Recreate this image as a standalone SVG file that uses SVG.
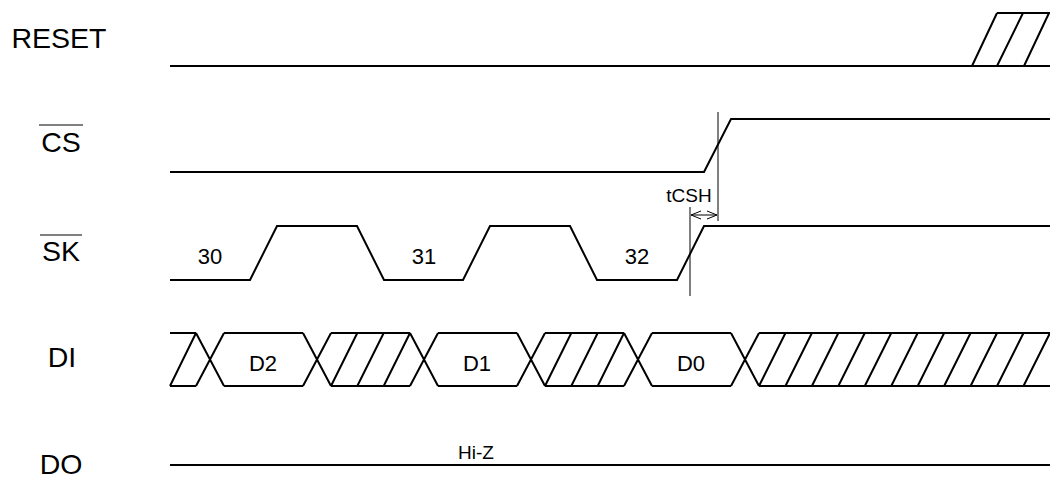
<svg xmlns="http://www.w3.org/2000/svg" width="1050" height="480" viewBox="0 0 1050 480">
<defs>
<style>
.sig{fill:none;stroke:#000;stroke-width:2;stroke-linejoin:miter}
.thin{fill:none;stroke:#000;stroke-width:1}
.lbl{font-family:"Liberation Sans",Arial,sans-serif;font-size:28.5px;fill:#000;text-anchor:middle}
.txt{font-family:"Liberation Sans",Arial,sans-serif;font-size:22px;fill:#000;text-anchor:middle}
.sm{font-family:"Liberation Sans",Arial,sans-serif;font-size:19px;fill:#000;text-anchor:middle}
</style>
<marker id="ah" viewBox="0 0 10 10" refX="10" refY="5" markerWidth="10" markerHeight="10" markerUnits="userSpaceOnUse" orient="auto-start-reverse">
<path d="M0,1 L10,5 L0,9" fill="none" stroke="#000" stroke-width="1"/>
</marker>
</defs>
<rect width="1050" height="480" fill="#fff"/>

<g id="labels">
<text class="lbl" x="59" y="48">RESET</text>
<text class="lbl" x="61" y="152">CS</text>
<line class="thin" x1="39" y1="125" x2="83" y2="125" stroke-width="1.5"/>
<text class="lbl" x="61" y="261">SK</text>
<line class="thin" x1="40" y1="235" x2="82" y2="235" stroke-width="1.5"/>
<text class="lbl" x="62" y="367">DI</text>
<text class="lbl" x="61" y="474">DO</text>
</g>

<g id="reset">
<path class="sig" d="M170,66 H1050"/>
<path class="sig" d="M997,13 H1050 M972,66 L997,13 M997,66 L1023,13 M1024,66 L1049,13"/>
</g>

<g id="cs">
<path class="sig" d="M170,172 H704 L731,119 H1050"/>
</g>

<g id="sk">
<path class="sig" d="M170,280 H250 L277,226 H357 L384,280 H463 L490,226 H570 L597,280 H677 L704,226 H1050"/>
<text class="txt" x="210" y="264">30</text>
<text class="txt" x="424" y="264">31</text>
<text class="txt" x="637" y="264">32</text>
</g>

<g id="di">
<path class="sig" d="M170,333 H196 M224,333 H303 M331,333 H410 M438,333 H517 M545,333 H624 M652,333 H731 M759,333 H1050"/>
<path class="sig" d="M170,386 H196 M224,386 H303 M331,386 H410 M438,386 H517 M545,386 H624 M652,386 H731 M759,386 H1050"/>
<path class="sig" d="M196,333 L224,386 M196,386 L224,333 M303,333 L331,386 M303,386 L331,333 M410,333 L438,386 M410,386 L438,333 M517,333 L545,386 M517,386 L545,333 M624,333 L652,386 M624,386 L652,333 M731,333 L759,386 M731,386 L759,333"/>
<path class="sig" d="M170,386 L196,333 M331,386 L357.3,333 M357.3,386 L383.7,333 M383.7,386 L410,333 M545,386 L571.3,333 M571.3,386 L597.7,333 M597.7,386 L624,333"/>
<path class="sig" d="M759,386 L785.45,333 M785.45,386 L811.9,333 M811.9,386 L838.35,333 M838.35,386 L864.8,333 M864.8,386 L891.25,333 M891.25,386 L917.7,333 M917.7,386 L944.15,333 M944.15,386 L970.6,333 M970.6,386 L997.05,333 M997.05,386 L1023.5,333 M1023.5,386 L1050,333"/>
<text class="txt" x="263" y="371">D2</text>
<text class="txt" x="477" y="371">D1</text>
<text class="txt" x="691" y="371">D0</text>
</g>

<g id="do">
<path class="sig" d="M170,465 H1050"/>
<text class="sm" x="476" y="459">Hi-Z</text>
</g>

<g id="connectors">
<line class="thin" x1="718" y1="112" x2="718" y2="221"/>
<line class="thin" x1="690" y1="207" x2="690" y2="296"/>
<line class="thin" x1="691" y1="215" x2="717" y2="215" marker-start="url(#ah)" marker-end="url(#ah)"/>
<text class="sm" x="689" y="202">tCSH</text>
</g>
</svg>
